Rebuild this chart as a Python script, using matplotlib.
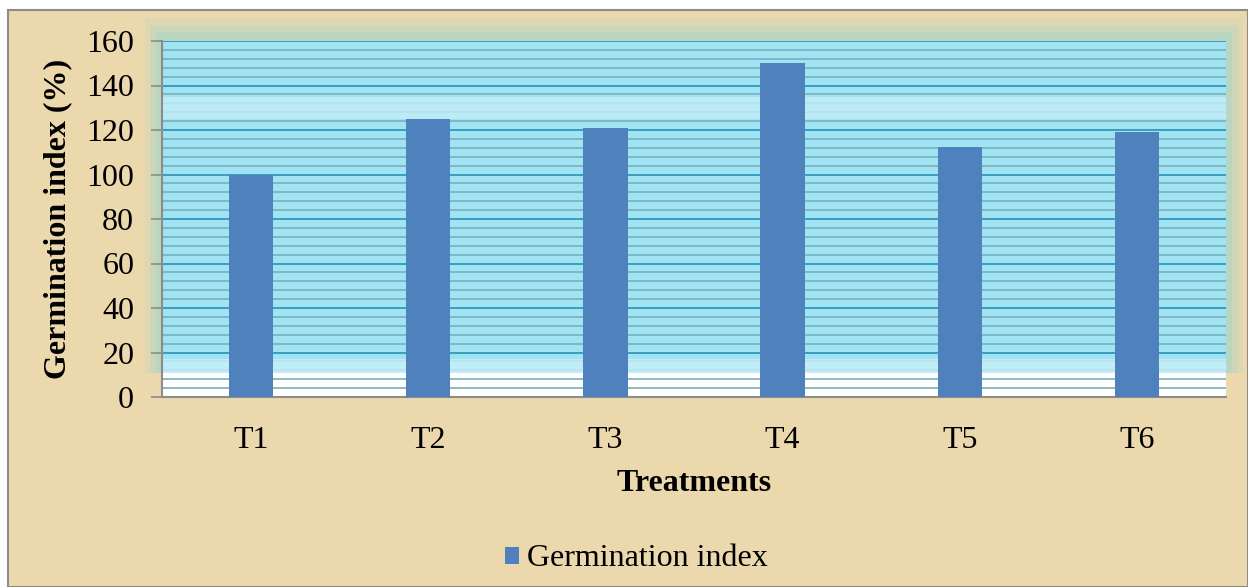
import matplotlib
matplotlib.use("Agg")
from matplotlib import pyplot as plt
from matplotlib.patches import Rectangle
from matplotlib.ticker import MultipleLocator
import numpy as np

plt.rcParams['font.family'] = ['Liberation Serif', 'DejaVu Serif']

treatments = ["T1", "T2", "T3", "T4", "T5", "T6"]
germination_index = [100, 125, 121, 150, 112.5, 119]

fig = plt.figure(figsize=(12.48, 5.87), dpi=100)
fig.patch.set_facecolor("white")
# parchment-coloured chart area with grey frame
fig.patches.append(Rectangle((8 / 1248, 0), 1 - 8 / 1248, 1 - 10 / 587,
                             transform=fig.transFigure, facecolor="#ecd8ad",
                             edgecolor="#8c8c8c", linewidth=1.5, zorder=-5))

ax = fig.add_axes([162 / 1248, 190 / 587, 1064 / 1248, 356 / 587])
ax.set_facecolor("white")

# cyan panel with soft teal glow
tr = ax.get_yaxis_transform()
for pad, a in [(0.016, 0.15), (0.011, 0.2), (0.006, 0.3)]:
    ax.add_patch(Rectangle((-pad, 11), 1 + 2 * pad, 160 - 11 + pad * 650,
                           transform=tr, facecolor="#8fd6d6", alpha=a,
                           edgecolor="none", clip_on=False, zorder=0))
ax.add_patch(Rectangle((0, 11), 1, 149, transform=tr, facecolor="#a0e4f4",
                       edgecolor="none", zorder=0.5))
ax.add_patch(Rectangle((0, 125), 1, 10, transform=tr, facecolor="#c4eef8",
                       edgecolor="none", zorder=0.6, alpha=0.8))
ax.add_patch(Rectangle((0, 11), 1, 6, transform=tr, facecolor="#c8f0fa",
                       edgecolor="none", zorder=0.6, alpha=0.8))

x = np.arange(len(treatments))
bars = ax.bar(x, germination_index, width=0.25, color="#4f81bd", zorder=3,
              label="Germination index")

ax.set_xlim(-0.5, len(treatments) - 0.5)
ax.set_ylim(0, 160)
ax.yaxis.set_major_locator(MultipleLocator(20))
ax.yaxis.set_minor_locator(MultipleLocator(4))
ax.grid(which="minor", axis="y", color="#7aaebc", linewidth=1.2, zorder=1)
ax.grid(which="major", axis="y", color="#3a9ec0", linewidth=1.4, zorder=1)
ax.set_axisbelow(True)

ax.set_xticks(x)
ax.set_xticklabels(treatments)
ax.tick_params(axis="x", length=0, pad=21, labelsize=23)
ax.tick_params(axis="y", which="major", length=8, width=1.2, color="#8c8c8c",
               labelsize=23, pad=12)
ax.tick_params(axis="y", which="minor", length=0)

for s in ["top", "right"]:
    ax.spines[s].set_visible(False)
for s in ["left", "bottom"]:
    ax.spines[s].set_color("#8c8c8c")
    ax.spines[s].set_linewidth(1.5)

ax.set_xlabel("Treatments", fontsize=23, fontweight="bold", labelpad=10)
ax.set_ylabel("Germination index (%)", fontsize=23, fontweight="bold", labelpad=10)

ax.legend(handles=[bars], loc="center", bbox_to_anchor=(0.446, -0.455),
          frameon=False, fontsize=23, handlelength=0.45, handleheight=0.45,
          handletextpad=0.25)

fig.savefig("out.png", dpi=100)
